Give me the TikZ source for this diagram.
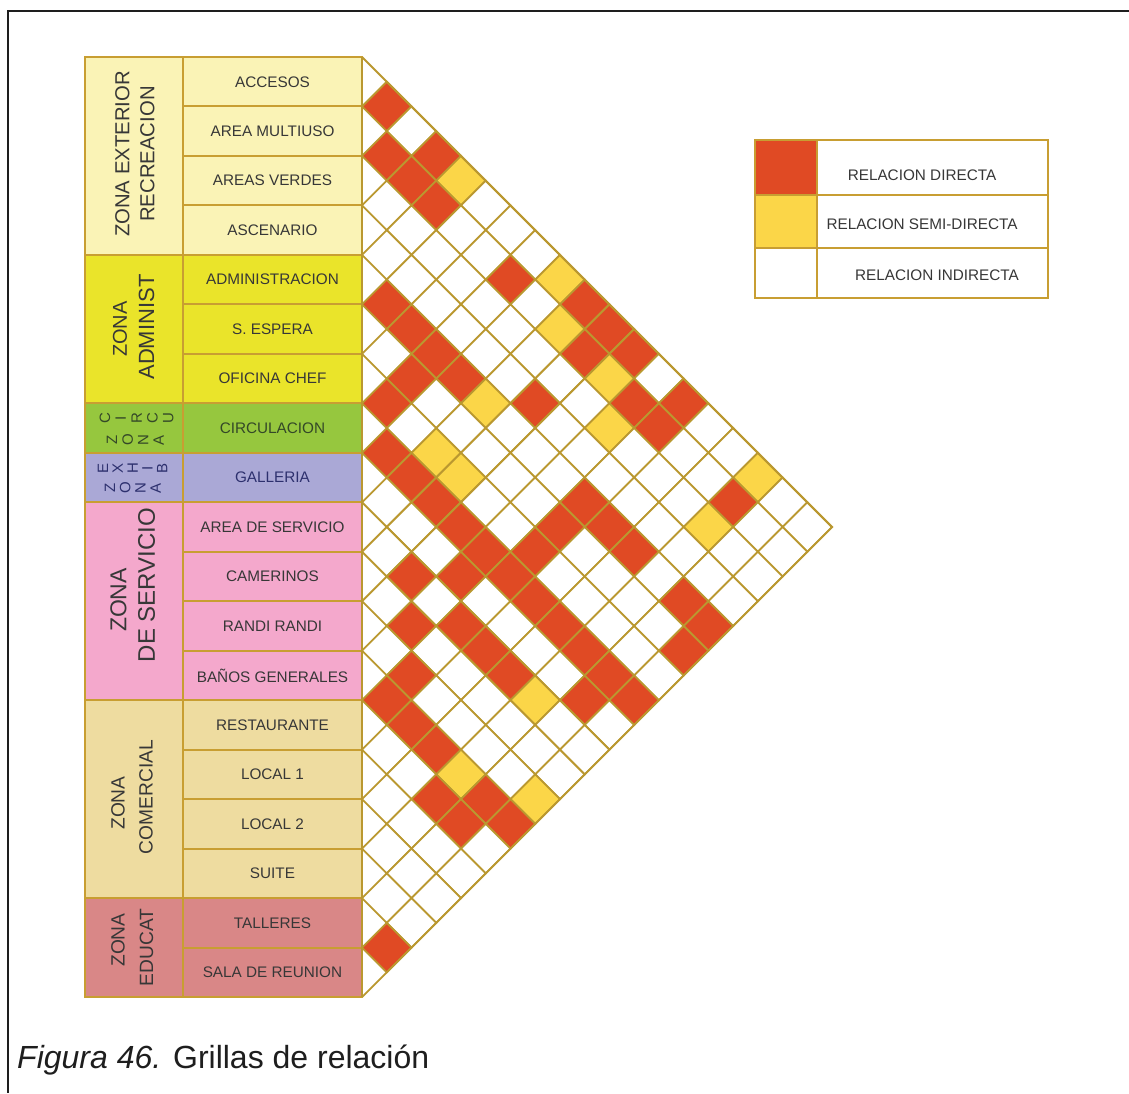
\documentclass[tikz,border=0pt]{standalone}
\usepackage{fontspec}
\setmainfont{Liberation Sans}
\definecolor{gridc}{RGB}{186,152,48}
\definecolor{tabc}{RGB}{200,158,50}
\definecolor{rdc}{RGB}{224,74,36}
\definecolor{ylc}{RGB}{251,214,72}
\definecolor{zext}{RGB}{250,243,182}
\definecolor{zadm}{RGB}{234,228,42}
\definecolor{zcir}{RGB}{150,199,62}
\definecolor{zexh}{RGB}{170,168,214}
\definecolor{zser}{RGB}{244,168,204}
\definecolor{zcom}{RGB}{238,220,160}
\definecolor{zedu}{RGB}{217,135,135}
\definecolor{txtc}{RGB}{55,55,55}
\definecolor{navyt}{RGB}{45,48,110}
\definecolor{greent}{RGB}{52,72,40}
\definecolor{framec}{RGB}{30,30,30}
\newcommand\setcell[3]{\expandafter\gdef\csname cell-#1-#2\endcsname{#3}}
\def\hh{49.47368}
\def\hf{24.73684}
\begin{document}
\begin{tikzpicture}[x=1pt,y=-1pt,
  cellline/.style={draw=gridc,line width=1.8pt,line join=miter},
  tabline/.style={draw=tabc,line width=2pt},
  itemlab/.style={font=\fontsize{15.3}{18}\selectfont,text=txtc,inner sep=0pt},
  zonelab/.style={text=txtc,rotate=90,inner sep=0pt},
  letlab/.style={font=\fontsize{15}{15}\selectfont,rotate=90,inner sep=0pt},
  leglab/.style={font=\fontsize{15.3}{18}\selectfont,text=txtc,inner sep=0pt}]
\useasboundingbox (0,0) rectangle (1129,1093);
\fill[white] (0,0) rectangle (1129,1093);
% frame
\draw[framec,line width=2.6pt] (1129,11) -- (8,11) -- (8,1093);
% cell colours
\foreach \a/\b in {0/1,1/2,0/3,1/3,1/4,1/7,4/5,0/9,4/6,0/10,1/10,4/7,5/7,4/8,6/7,3/10,0/11,1/12,0/13,1/13,7/8,7/9,7/10,7/11,7/12,7/13,7/14,7/15,7/16,7/17,7/18,4/13,5/13,6/13,8/12,9/11,10/12,9/13,9/14,11/13,9/15,12/13,12/14,12/15,13/16,12/17,13/17,12/18,17/18,8/17,4/14,4/15,4/17,4/18,5/18,1/16}{\setcell{\a}{\b}{rdc}}
\foreach \a/\b in {0/4,0/8,1/9,4/9,6/9,6/10,1/11,2/12,2/16,0/16,9/16,12/16,11/18}{\setcell{\a}{\b}{ylc}}
% grid of diamonds
\foreach \i in {0,...,17}{
  \pgfmathtruncatemacro\jst{\i+1}
  \foreach \j in {\jst,...,18}{
    \ifcsname cell-\i-\j\endcsname
      \edef\fc{\csname cell-\i-\j\endcsname}
    \else
      \def\fc{white}
    \fi
    \pgfmathsetmacro\cx{362+(\j-\i)*\hf}
    \pgfmathsetmacro\cy{57+(\i+\j+1)*\hf}
    \draw[cellline,fill=\fc] (\cx-\hf,\cy) -- (\cx,\cy-\hf) -- (\cx+\hf,\cy) -- (\cx,\cy+\hf) -- cycle;
  }
}
\draw[cellline] (362,57) -- (832,527) -- (362,997);
% zone column
\foreach \a/\b/\c in {0/4/zext,4/7/zadm,7/8/zcir,8/9/zexh,9/13/zser,13/17/zcom,17/19/zedu}{
  \draw[tabline,fill=\c] (85,57+\a*\hh) rectangle (183,57+\b*\hh);
}
% item column
\foreach \k/\c in {0/zext,1/zext,2/zext,3/zext,4/zadm,5/zadm,6/zadm,7/zcir,8/zexh,9/zser,10/zser,11/zser,12/zser,13/zcom,14/zcom,15/zcom,16/zcom,17/zedu,18/zedu}{
  \draw[tabline,fill=\c] (183,57+\k*\hh) rectangle (362,57+\k*\hh+\hh);
}
\draw[gridc,line width=1.8pt] (362,57) -- (362,997);
% item labels
\foreach \k/\t in {0/ACCESOS,1/AREA MULTIUSO,2/AREAS VERDES,3/ASCENARIO,4/ADMINISTRACION,5/S. ESPERA,6/OFICINA CHEF,9/AREA DE SERVICIO,10/CAMERINOS,11/RANDI RANDI,12/BAÑOS GENERALES,13/RESTAURANTE,14/LOCAL 1,15/LOCAL 2,16/SUITE,17/TALLERES,18/SALA DE REUNION}{
  \node[itemlab] (item\k) at (272.5,57+\k*\hh+\hf) {\t};
}
\node[itemlab,text=greent] (item7) at (272.5,57+7*\hh+\hf) {CIRCULACION};
\node[itemlab,text=navyt] (item8) at (272.5,57+8*\hh+\hf) {GALLERIA};
% zone labels
\node[zonelab,font=\fontsize{20.3}{24}\selectfont] (zone1a) at (122.5,154) {ZONA EXTERIOR};
\node[zonelab,font=\fontsize{20.3}{24}\selectfont] (zone1b) at (147.5,154) {RECREACION};
\node[zonelab,font=\fontsize{20}{24}\selectfont] (zone2a) at (120,329) {ZONA};
\node[zonelab,font=\fontsize{22}{24}\selectfont] (zone2b) at (146.5,327) {ADMINIST};
\node[zonelab,font=\fontsize{23}{24}\selectfont] (zone5a) at (118.5,600) {ZONA};
\node[zonelab,font=\fontsize{24}{24}\selectfont] (zone5b) at (146.5,585) {DE SERVICIO};
\node[zonelab,font=\fontsize{19.2}{24}\selectfont] (zone6a) at (118,803) {ZONA};
\node[zonelab,font=\fontsize{19.2}{24}\selectfont] (zone6b) at (146,797) {COMERCIAL};
\node[zonelab,font=\fontsize{19.2}{24}\selectfont] (zone7a) at (118,940) {ZONA};
\node[zonelab,font=\fontsize{19.2}{24}\selectfont] (zone7b) at (146.5,947.5) {EDUCAT};
\foreach \l [count=\k from 0] in {C,I,R,C,U}{\node[letlab,text=greent] (zc\k) at (105+\k*15.8,418) {\l};}
\foreach \l [count=\k from 0] in {Z,O,N,A}{\node[letlab,text=greent] (zz\k) at (112+\k*15.6,440) {\l};}
\foreach \l [count=\k from 0] in {E,X,H,I,B}{\node[letlab,text=navyt] (ze\k) at (103+\k*14.8,468) {\l};}
\foreach \l [count=\k from 0] in {Z,O,N,A}{\node[letlab,text=navyt] (zy\k) at (110+\k*15.2,488) {\l};}
% legend
\fill[rdc] (755,140) rectangle (817,195);
\fill[ylc] (755,195) rectangle (817,248);
\draw[tabline] (755,140) rectangle (1048,298);
\draw[tabline] (817,140) -- (817,298);
\draw[tabline] (755,195) -- (1048,195);
\draw[tabline] (755,248) -- (1048,248);
\node[leglab] (leg1) at (922,175) {RELACION DIRECTA};
\node[leglab] (leg2) at (922,224) {RELACION SEMI-DIRECTA};
\node[leglab] (leg3) at (937,275) {RELACION INDIRECTA};
% caption
\node[anchor=base west,inner sep=0pt,font=\fontsize{32}{36}\selectfont,text=framec] (cap) at (17,1068) {\textit{Figura 46.} Grillas de relación};
\end{tikzpicture}
\end{document}
